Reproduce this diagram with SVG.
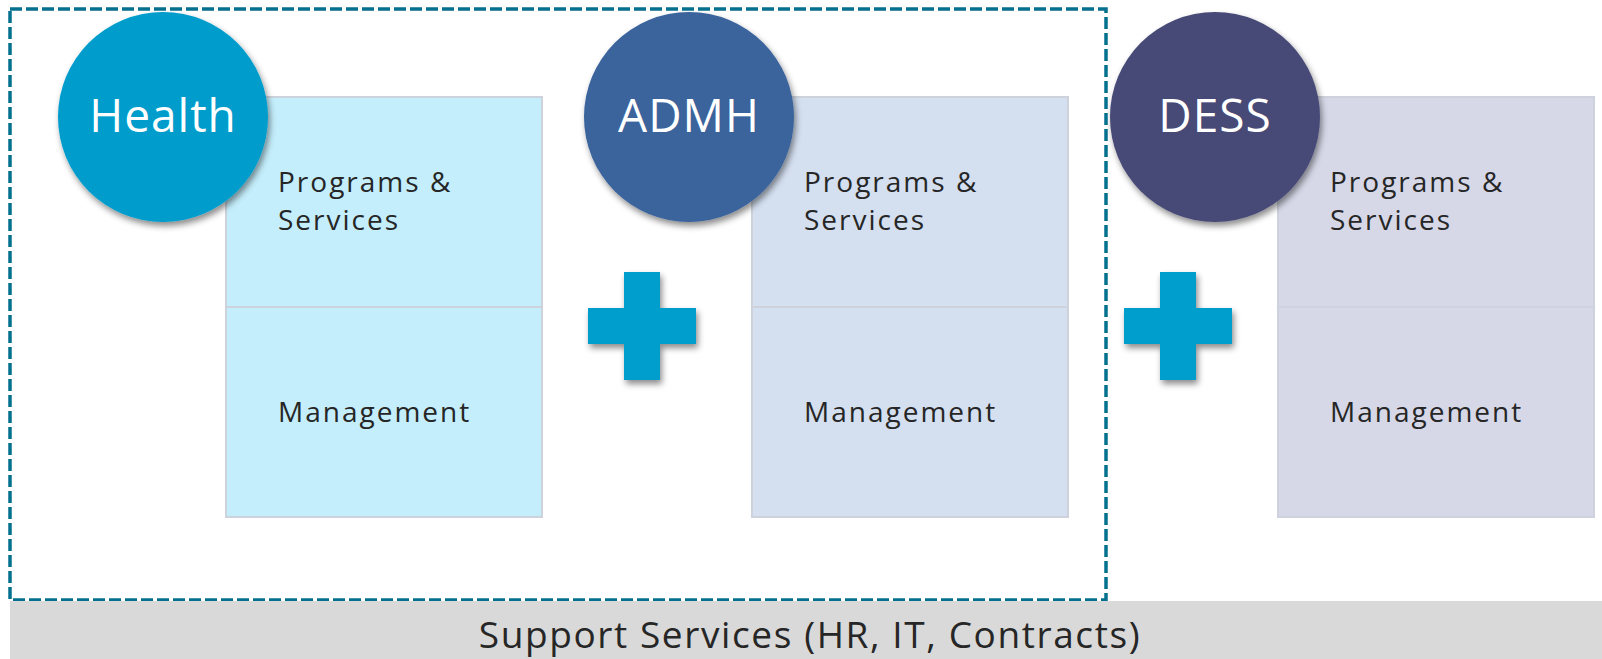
<svg xmlns="http://www.w3.org/2000/svg" width="1602" height="659" viewBox="0 0 1602 659">
  <defs>
    <filter id="shadow" x="-20%" y="-20%" width="140%" height="140%">
      <feDropShadow dx="2" dy="4" stdDeviation="3" flood-color="#000" flood-opacity="0.45"/>
    </filter>
    <path id="plus" d="M-18,-54 H18 V-18 H54 V18 H18 V54 H-18 V18 H-54 V-18 H-18 Z"/>
  </defs>
  <style>
    .box { stroke: #cdd2dc; stroke-width: 2; }
    .label { font-family: "Open Sans", "DejaVu Sans", sans-serif; font-size: 28px; letter-spacing: 2px; fill: #262626; }
    .title { font-family: "Open Sans", "DejaVu Sans", sans-serif; font-size: 46px; letter-spacing: 1px; fill: #ffffff; text-anchor: middle; }
    .plus { fill: #009ecd; filter: url(#shadow); }
    .support { font-family: "Open Sans", "DejaVu Sans", sans-serif; font-size: 37px; letter-spacing: 1.6px; fill: #262626; text-anchor: middle; }
  </style>
  <rect width="1602" height="659" fill="#ffffff"/>

  <!-- Health unit -->
  <g id="health">
    <rect class="box" x="226" y="97" width="316" height="210" fill="#c4eefc"/>
    <rect class="box" x="226" y="307" width="316" height="210" fill="#c4eefc"/>
    <text class="label" x="278" y="192">Programs &amp;</text>
    <text class="label" x="278" y="230">Services</text>
    <text class="label" x="278" y="422">Management</text>
    <circle cx="163" cy="117" r="105" fill="#019dcc" filter="url(#shadow)"/>
    <text class="title" x="163" y="132">Health</text>
  </g>

  <!-- ADMH unit -->
  <g id="admh">
    <rect class="box" x="752" y="97" width="316" height="210" fill="#d4dff0"/>
    <rect class="box" x="752" y="307" width="316" height="210" fill="#d4dff0"/>
    <text class="label" x="804" y="192">Programs &amp;</text>
    <text class="label" x="804" y="230">Services</text>
    <text class="label" x="804" y="422">Management</text>
    <circle cx="689" cy="117" r="105" fill="#3a639c" filter="url(#shadow)"/>
    <text class="title" x="689" y="132">ADMH</text>
  </g>

  <!-- DESS unit -->
  <g id="dess">
    <rect class="box" x="1278" y="97" width="316" height="210" fill="#d6d8e8"/>
    <rect class="box" x="1278" y="307" width="316" height="210" fill="#d6d8e8"/>
    <text class="label" x="1330" y="192">Programs &amp;</text>
    <text class="label" x="1330" y="230">Services</text>
    <text class="label" x="1330" y="422">Management</text>
    <circle cx="1215" cy="117" r="105" fill="#474a76" filter="url(#shadow)"/>
    <text class="title" x="1215" y="132">DESS</text>
  </g>

  <!-- plus signs joining the units -->
  <g id="plus-1"><use href="#plus" class="plus" x="642" y="326"/></g>
  <g id="plus-2"><use href="#plus" class="plus" x="1178" y="326"/></g>

  <!-- boundary around Health and ADMH -->
  <g id="boundary">
    <rect x="10" y="9" width="1096" height="591" fill="none" stroke="#04708f" stroke-width="3.5" stroke-dasharray="12 4"/>
  </g>

  <!-- shared support band -->
  <g id="support">
    <rect x="10" y="601" width="1592" height="58" fill="#d9d9d9"/>
    <text class="support" x="810" y="648">Support Services (HR, IT, Contracts)</text>
  </g>

  <g id="connectors"/>
</svg>
